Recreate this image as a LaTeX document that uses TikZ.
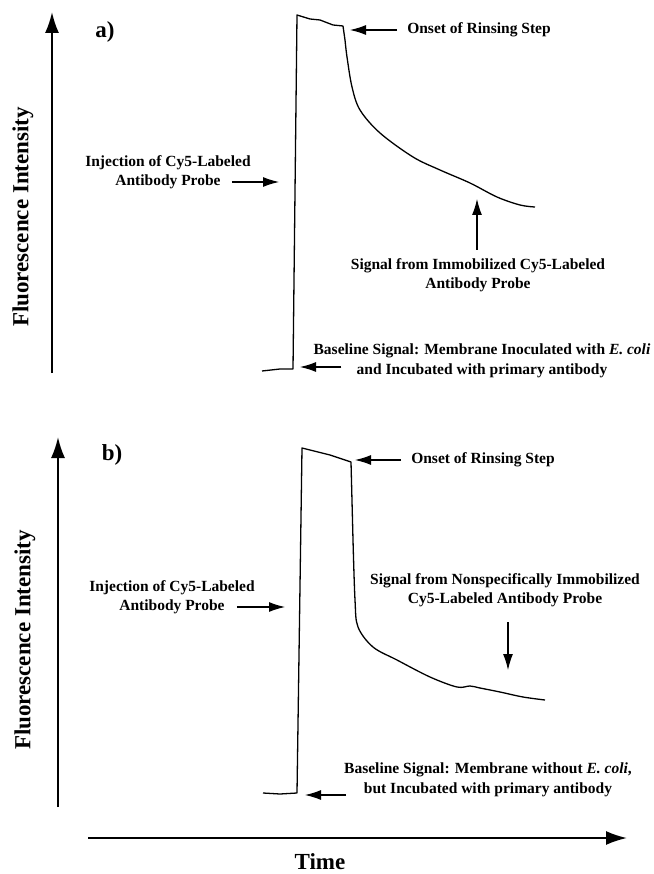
\documentclass[tikz,border=0pt]{standalone}
\usepackage{fontspec}
\setmainfont{Liberation Serif}
\usetikzlibrary{arrows.meta,calc}
\tikzset{axisarrow/.style={-{Latex[length=21pt,width=14pt]},line width=2pt},
  notearrow/.style={-{Latex[length=16pt,width=10pt]},line width=1.1pt},
  trace/.style={line width=1.3pt,line join=round},
  notelabel/.style={font=\fontsize{15.5}{19.5}\selectfont\bfseries,align=center,inner sep=3pt},
  axislabel/.style={font=\fontsize{23}{26}\selectfont\bfseries,inner sep=2pt},
  paneltag/.style={font=\fontsize{23}{26}\selectfont\bfseries}}
\begin{document}
\begin{tikzpicture}[x=1pt,y=-1pt]
\path[use as bounding box] (0,0) rectangle (653,874);
\begin{scope}[shift={(0,0)}]
\draw[axisarrow] (52,373)--(52,12);
\node[axislabel,rotate=90] (ylabA) at (23,217) {Fluorescence Intensity};
\node[paneltag] (tagA) at (105,32) {a)};
\draw[trace] (262,371)--(280,369)--(293,369)--(297,15)--(310,19)--(320,20)--(333,25)--(343,26)--(345,40)
  plot[smooth,tension=.55] coordinates {(345,40) (347,57) (352,87) (360,110) (380,133) (413,157) (440,170) (470,183) (497,197) (520,205) (535,207)};
\coordinate (rinseAtip) at (350,30);
\coordinate (injAtip) at (279,182);
\coordinate (sigAtip) at (477,199);
\coordinate (baseAtip) at (300,367);
\node[notelabel] (rinseA) at (479,30) {Onset of Rinsing Step};
\node[notelabel] (injA) at (168,172) {Injection of Cy5-Labeled\\Antibody Probe};
\node[notelabel] (sigA) at (478,275) {Signal from Immobilized Cy5-Labeled\\Antibody Probe};
\node[notelabel] (baseA) at (482,361) {Baseline Signal: Membrane Inoculated with \textit{E. coli}\\and Incubated with primary antibody};
\draw[notearrow] ([xshift=-7pt]rinseA.west) -- (rinseAtip);
\draw[notearrow] ($(injA.east |- injAtip)+(-22,0)$) -- (injAtip);
\draw[notearrow] ([yshift=5pt]sigA.north -| sigAtip) -- (sigAtip);
\draw[notearrow] ($(baseA.west |- baseAtip)+(31,0)$) -- (baseAtip);
\end{scope}
\begin{scope}[shift={(0,440)}]
\draw[axisarrow] (58,367)--(58,-3);
\node[axislabel,rotate=90] (ylabB) at (25,200) {Fluorescence Intensity};
\node[paneltag] (tagB) at (112,15) {b)};
\draw[trace] (263,353)--(280,354)--(297,353)--(302,8)--(330,15)--(351,22)--(353,100)
  plot[smooth,tension=.55] coordinates {(353,100) (355,160) (358,187) (373,207) (397,220) (430,237) (457,247) (470,246) (480,248) (500,252) (523,257) (545,260)};
\coordinate (rinseBtip) at (355,20);
\coordinate (injBtip) at (285,167);
\coordinate (sigBtip) at (508,230);
\coordinate (baseBtip) at (305,355);
\node[notelabel] (rinseB) at (483,20) {Onset of Rinsing Step};
\node[notelabel] (injB) at (172,157) {Injection of Cy5-Labeled\\Antibody Probe};
\node[notelabel] (sigB) at (505,150) {Signal from Nonspecifically Immobilized\\Cy5-Labeled Antibody Probe};
\node[notelabel] (baseB) at (488,340) {Baseline Signal: Membrane without \textit{E. coli},\\but Incubated with primary antibody};
\draw[notearrow] ([xshift=-7pt]rinseB.west) -- (rinseBtip);
\draw[notearrow] ($(injB.east |- injBtip)+(-21,0)$) -- (injBtip);
\draw[notearrow] ([yshift=-12pt]sigB.south -| sigBtip) -- (sigBtip);
\draw[notearrow] ($(baseB.west |- baseBtip)+(5,0)$) -- (baseBtip);
\draw[axisarrow] (88,398)--(627,398);
\node[axislabel] (timeB) at (320,422) {Time};
\end{scope}
\end{tikzpicture}
\end{document}
